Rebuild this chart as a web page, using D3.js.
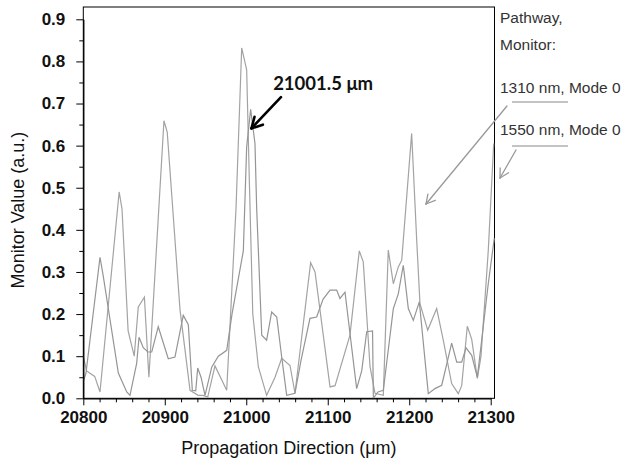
<!DOCTYPE html>
<html>
<head>
<meta charset="utf-8">
<script src="https://cdn.jsdelivr.net/npm/d3@7"></script>
<style>
  body { margin: 0; background: #fff; }
  svg { display: block; font-family: Arial, "Liberation Sans", sans-serif; }
</style>
</head>
<body>
<svg id="chart" width="627" height="466"></svg>
<script>
// values (position in um, monitor value in a.u.)
const pos1310 = [20800, 20804, 20814, 20820.5, 20844, 20847.5, 20855, 20862.5, 20867.5, 20875,
  20880.5, 20899, 20903, 20918.7, 20931, 20941, 20947, 20952.7, 20961.6, 20976,
  20987.4, 20994.4, 21000.5, 21004, 21008, 21014.8, 21025, 21035.3, 21043.5, 21053.7,
  21059.8, 21079, 21084.4, 21102.8, 21109, 21127.3, 21138.7, 21143.6, 21151.9, 21158,
  21168.2, 21174.3, 21180.5, 21186.6, 21190.8, 21203, 21209.2, 21213.2, 21222.7, 21233.7,
  21241.8, 21252.1, 21260.2, 21264.4, 21271.3, 21276.7, 21283.6, 21288.1, 21297, 21303.7];
const val1310 = [0.10, 0.065, 0.052, 0.015, 0.49, 0.45, 0.16, 0.10, 0.217, 0.24,
  0.05, 0.659, 0.632, 0.21, 0.019, 0.007, 0.007, 0.003, 0.077, 0.019,
  0.45, 0.832, 0.78, 0.5, 0.2, 0.075, 0.007, 0.05, 0.095, 0.078,
  0.012, 0.322, 0.30, 0.027, 0.03, 0.15, 0.35, 0.324, 0.075, 0.012,
  0.007, 0.352, 0.272, 0.312, 0.328, 0.629, 0.375, 0.225, 0.162, 0.213,
  0.138, 0.035, 0.011, 0.03, 0.171, 0.14, 0.047, 0.10, 0.35, 0.605];

const pos1550 = [20800, 20803.3, 20820.5, 20824.5, 20843, 20853.3, 20857.3, 20865.5, 20868.4, 20873.6,
  20879.4, 20884, 20892, 20904.3, 20912.5, 20922.7, 20928.9, 20933.8, 20938, 20940.4,
  20944.5, 20949.4, 20957.6, 20965.7, 20976, 20982.5, 20996.4, 21000.5, 21005.4, 21010.7,
  21012.8, 21019, 21025, 21031.2, 21037.4, 21043.5, 21049.6, 21059.8, 21067.2, 21078.2,
  21086.4, 21094.2, 21102.8, 21111, 21115, 21121.2, 21127.3, 21135.5, 21141.7, 21147.8,
  21155, 21156, 21161.6, 21168.2, 21180.5, 21186.6, 21192.7, 21198.9, 21205, 21212.4,
  21223.4, 21231.6, 21239.9, 21252.1, 21258.3, 21264.4, 21269.7, 21276.7, 21283.6, 21297, 21304.4];
const val1550 = [0.04, 0.06, 0.335, 0.29, 0.06, 0.015, 0.007, 0.083, 0.145, 0.12,
  0.11, 0.11, 0.17, 0.094, 0.098, 0.197, 0.175, 0.019, 0.018, 0.072,
  0.05, 0.007, 0.074, 0.10, 0.114, 0.2, 0.35, 0.597, 0.686, 0.605,
  0.45, 0.15, 0.138, 0.205, 0.193, 0.098, 0.007, 0.012, 0.09, 0.19,
  0.193, 0.235, 0.257, 0.257, 0.237, 0.252, 0.154, 0.023, 0.065, 0.158,
  0.16, 0.0, 0.015, 0.019, 0.213, 0.248, 0.316, 0.213, 0.185, 0.229,
  0.011, 0.023, 0.031, 0.131, 0.086, 0.086, 0.12, 0.102, 0.05, 0.272, 0.38];

const xTicks = [20800, 20900, 21000, 21100, 21200, 21300];
const xMinor = d3.range(20820, 21300, 20).filter(v => v % 100 !== 0);
const yTicks = [0, 0.1, 0.2, 0.3, 0.4, 0.5, 0.6, 0.7, 0.8, 0.9];
const yMinor = d3.range(0.05, 0.9, 0.1);
const legendLabels = ["1310 nm, Mode 0", "1550 nm, Mode 0"];

const svg = d3.select("#chart");

// plot box
const plotLeft = 83.3, plotRight = 494.5, plotTop = 7, plotBottom = 398.3;
const x = d3.scaleLinear().domain([20800, 21300]).range([plotLeft, 490.7]);
const y = d3.scaleLinear().domain([0, 0.9]).range([plotBottom, 19.3]);

// frame
svg.append("rect")
  .attr("x", plotLeft).attr("y", plotTop)
  .attr("width", plotRight - plotLeft).attr("height", plotBottom - plotTop)
  .attr("fill", "none").attr("stroke", "#000").attr("stroke-width", 1);

// series lines
const line = d3.line().x(d => x(d[0])).y(d => y(d[1]));
const series = [
  { pos: pos1310, val: val1310, colour: "#a3a3a3" },
  { pos: pos1550, val: val1550, colour: "#959595" }
];
series.forEach(s => {
  svg.append("path")
    .datum(s.pos.map((p, i) => [p, s.val[i]]))
    .attr("fill", "none")
    .attr("stroke", s.colour)
    .attr("stroke-width", 1.2)
    .attr("d", line);
});

// axes
const xAxis = svg.append("g")
  .attr("transform", `translate(0,${plotBottom})`)
  .call(d3.axisBottom(x).tickValues(xTicks).tickFormat(d3.format("d"))
    .tickSize(7).tickPadding(6).tickSizeOuter(0));
svg.append("g")
  .attr("transform", `translate(0,${plotBottom})`)
  .call(d3.axisBottom(x).tickValues(xMinor).tickFormat("").tickSize(4).tickSizeOuter(0))
  .select(".domain").remove();

const yAxis = svg.append("g")
  .attr("transform", `translate(${plotLeft},0)`)
  .call(d3.axisLeft(y).tickValues(yTicks).tickFormat(d3.format(".1f"))
    .tickSize(7).tickPadding(11).tickSizeOuter(0));
svg.append("g")
  .attr("transform", `translate(${plotLeft},0)`)
  .call(d3.axisLeft(y).tickValues(yMinor).tickFormat("").tickSize(4).tickSizeOuter(0))
  .select(".domain").remove();

svg.selectAll(".domain").attr("stroke-width", 1.3);
svg.selectAll(".tick line").attr("stroke", "#000");
xAxis.selectAll("text").attr("font-size", 17).attr("font-weight", "bold")
  .attr("font-family", "Arial, 'Liberation Sans', sans-serif").attr("fill", "#111");
yAxis.selectAll("text").attr("font-size", 17).attr("font-weight", "bold")
  .attr("font-family", "Arial, 'Liberation Sans', sans-serif").attr("fill", "#111");

// axis titles
svg.append("text")
  .attr("x", (plotLeft + plotRight) / 2).attr("y", 454)
  .attr("text-anchor", "middle").attr("font-size", 18).attr("fill", "#111")
  .text("Propagation Direction (μm)");
svg.append("text")
  .attr("transform", "translate(24,210) rotate(-90)")
  .attr("text-anchor", "middle").attr("font-size", 18).attr("fill", "#111")
  .text("Monitor Value (a.u.)");

// legend
const legend = svg.append("g").attr("font-size", 15.5).attr("fill", "#333");
legend.append("text").attr("x", 500).attr("y", 23).text("Pathway,");
legend.append("text").attr("x", 500).attr("y", 50).text("Monitor:");
legendLabels.forEach((lab, i) => {
  legend.append("text").attr("x", 500).attr("y", 93 + i * 42).text(lab);
  legend.append("line")
    .attr("x1", 512).attr("x2", 568)
    .attr("y1", 102 + i * 44).attr("y2", 102 + i * 44)
    .attr("stroke", "#888").attr("stroke-width", 1);
});

// arrows
function arrow(x1, y1, x2, y2, colour, width, head) {
  const a = Math.atan2(y2 - y1, x2 - x1);
  const g = svg.append("g").attr("stroke", colour).attr("stroke-width", width)
    .attr("fill", "none").attr("stroke-linecap", "round");
  g.append("line").attr("x1", x1).attr("y1", y1).attr("x2", x2).attr("y2", y2);
  [-0.5, 0.5].forEach(da => {
    g.append("line").attr("x1", x2).attr("y1", y2)
      .attr("x2", x2 - head * Math.cos(a + da))
      .attr("y2", y2 - head * Math.sin(a + da));
  });
}
// black annotation arrow to the peak
arrow(x(21042.6), y(0.715), x(21006.4), y(0.641), "#000", 2.6, 12);
svg.append("text")
  .attr("x", x(21033)).attr("y", y(0.733))
  .attr("font-family", "Lato, 'Open Sans', sans-serif")
  .attr("font-weight", "bold").attr("font-size", 18.5).attr("fill", "#111")
  .text("21001.5 μm");

// grey legend arrows
arrow(507, 106, 426, 204, "#999", 1.3, 10);
arrow(516, 150, 500, 178, "#999", 1.3, 10);
</script>
</body>
</html>
